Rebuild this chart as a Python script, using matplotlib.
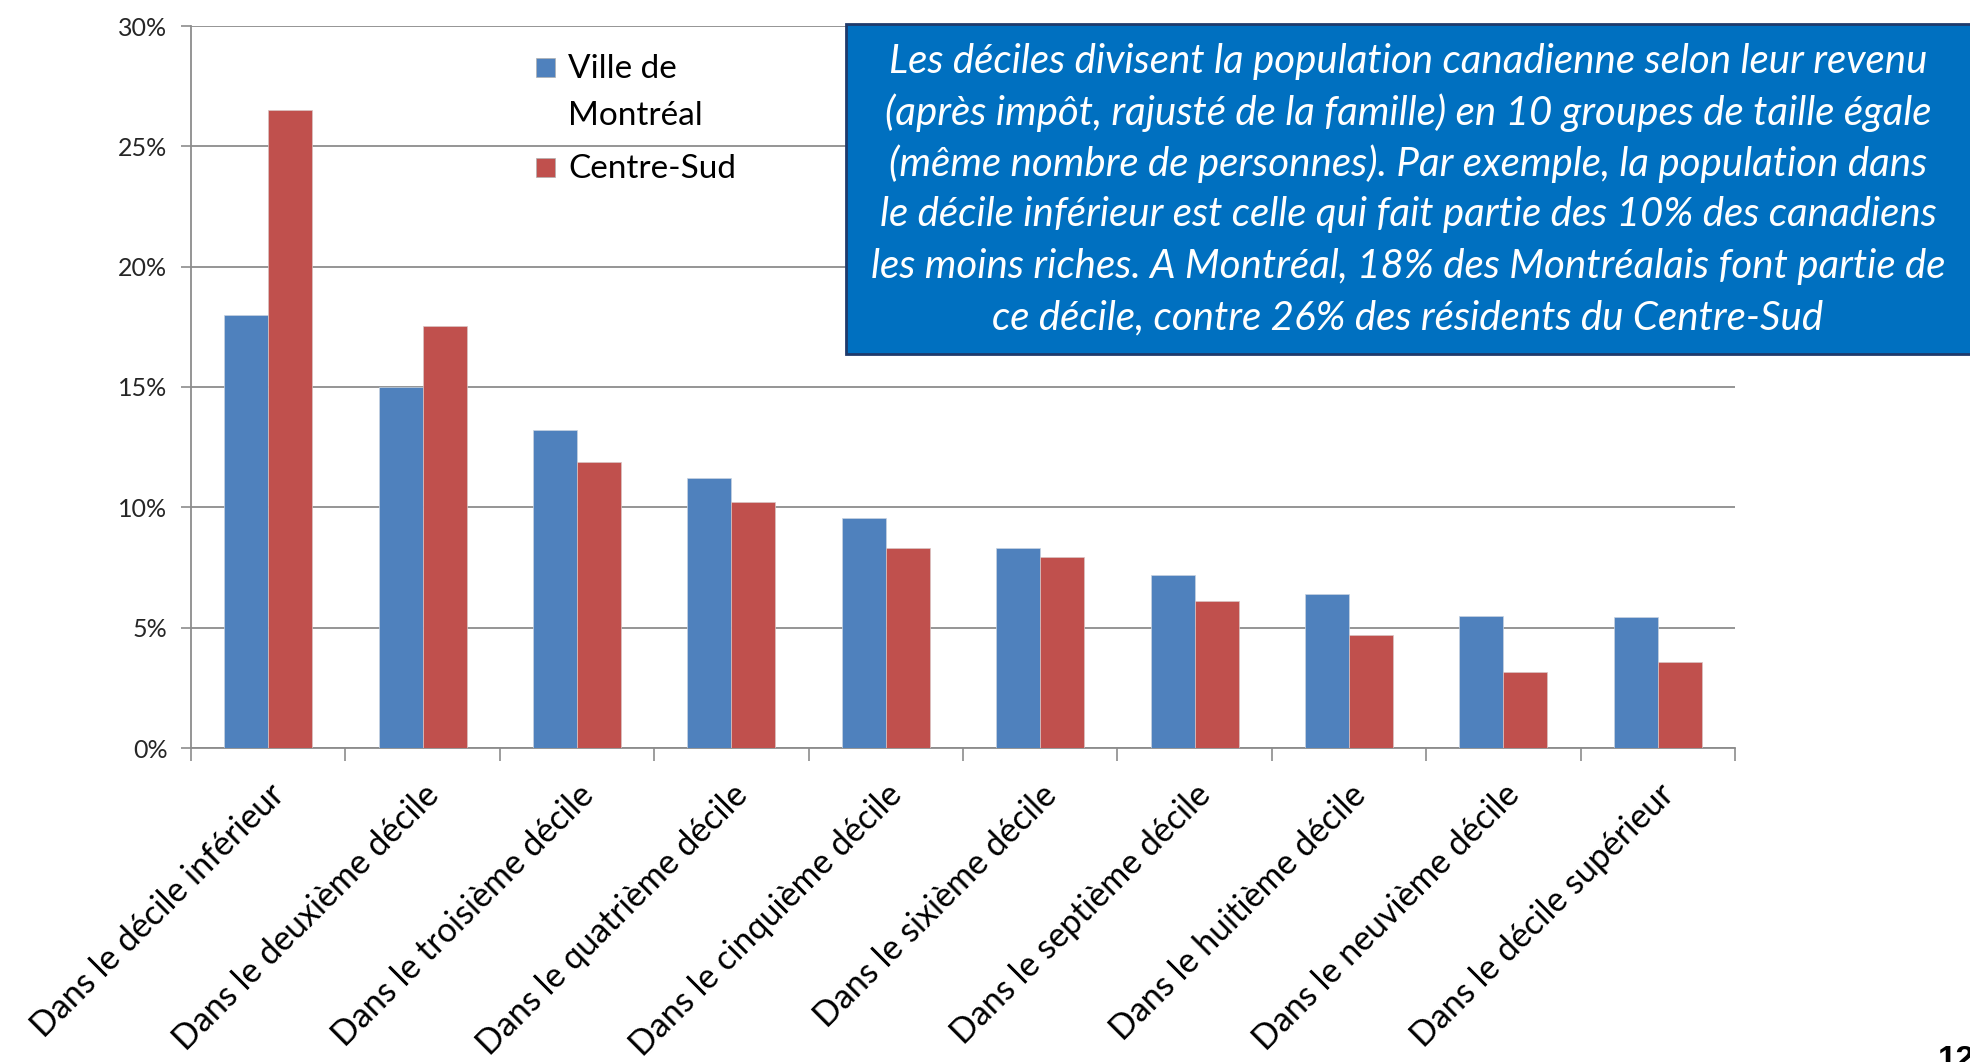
import matplotlib
matplotlib.use("Agg")
import matplotlib.pyplot as plt
import numpy as np
from matplotlib.patches import Rectangle

plt.rcParams["font.family"] = ["Lato", "DejaVu Sans"]

CATEGORIES = [
    "Dans le décile inférieur",
    "Dans le deuxième décile",
    "Dans le troisième décile",
    "Dans le quatrième décile",
    "Dans le cinquième décile",
    "Dans le sixième décile",
    "Dans le septième décile",
    "Dans le huitième décile",
    "Dans le neuvième décile",
    "Dans le décile supérieur",
]
MONTREAL = [18.0, 15.0, 13.2, 11.2, 9.55, 8.33, 7.2, 6.4, 5.5, 5.45]
CENTRE_SUD = [26.5, 17.55, 11.9, 10.23, 8.33, 7.95, 6.1, 4.7, 3.15, 3.58]
SERIES_NAMES = ["Ville de\nMontréal", "Centre-Sud"]
Y_TICKS = [0, 5, 10, 15, 20, 25, 30]

NOTE_LINES = [
    "Les déciles divisent la population canadienne selon leur revenu",
    "(après impôt, rajusté de la famille) en 10 groupes de taille égale",
    "(même nombre de personnes). Par exemple, la population dans",
    "le décile inférieur est celle qui fait partie des 10% des canadiens",
    "les moins riches. A Montréal, 18% des Montréalais font partie de",
    "ce décile, contre 26% des résidents du Centre-Sud",
]

BLUE = "#4F81BD"
RED = "#C0504D"
GRID = "#8C8C8C"

W, H = 1970, 1062
fig = plt.figure(figsize=(W / 100, H / 100), dpi=100)
ax = fig.add_axes([191 / W, 1 - 748 / H, (1735 - 191) / W, (748 - 26) / H])

x = np.arange(len(CATEGORIES))
bw = 0.285
ax.bar(x - bw / 2, MONTREAL, bw, color=BLUE, edgecolor="#C8D3E0", linewidth=0.5, zorder=3)
ax.bar(x + bw / 2, CENTRE_SUD, bw, color=RED, edgecolor="#D9C4C4", linewidth=0.5, zorder=3)

ax.set_xlim(-0.5, len(CATEGORIES) - 0.5)
ax.set_ylim(0, 30)
ax.set_yticks(Y_TICKS)
ax.set_yticklabels([f"{t}%" for t in Y_TICKS], fontsize=18, color="#262626")
ax.yaxis.grid(True, color=GRID, linewidth=1.3, zorder=0)
ax.tick_params(axis="y", length=7, width=1.2, color=GRID, pad=10)

# category ticks between groups, labels at centers
ax.set_xticks(np.arange(-0.5, len(CATEGORIES), 1.0))
ax.set_xticklabels([])
ax.tick_params(axis="x", which="major", length=9, width=1.2, color=GRID)
ax.set_xticks(x, minor=True)
ax.set_xticklabels(CATEGORIES, minor=True, rotation=45, ha="right",
                   rotation_mode="anchor", fontsize=24.5, color="black")
ax.tick_params(axis="x", which="minor", length=0, pad=22)

for s in ["top", "right"]:
    ax.spines[s].set_visible(False)
for s in ["left", "bottom"]:
    ax.spines[s].set_color(GRID)
    ax.spines[s].set_linewidth(1.3)

# legend: square beside the first line of each label
leg_rows = [(SERIES_NAMES[0], BLUE, 67), (SERIES_NAMES[1], RED, 167)]
for name, color, yc in leg_rows:
    fig.patches.append(Rectangle((536 / W, 1 - (yc + 10) / H), 19 / W, 19 / H,
                                 transform=fig.transFigure, facecolor=color,
                                 edgecolor="#B0B0B0", linewidth=0.5))
    fig.text(568 / W, 1 - (yc - 12.5) / H, name, ha="left", va="top", fontsize=24,
             linespacing=1.7, color="black")

# note box
fig.patches.append(Rectangle((846 / W, 1 - 354 / H), (W - 846 + 10) / W, (354 - 24) / H,
                             transform=fig.transFigure, facecolor="#0070C0",
                             edgecolor="#1F3A6B", linewidth=2, zorder=5))
for i, line in enumerate(NOTE_LINES):
    fig.text(1408 / W, 1 - (61 + i * 51.3) / H, line, ha="center", va="center",
             fontsize=29, style="italic", color="white", zorder=6)

fig.text(1938 / W, 1 - 1045 / H, "12", ha="left", va="top", fontsize=24,
         fontweight="bold", family="Liberation Sans")

fig.savefig("out.png", dpi=100)
